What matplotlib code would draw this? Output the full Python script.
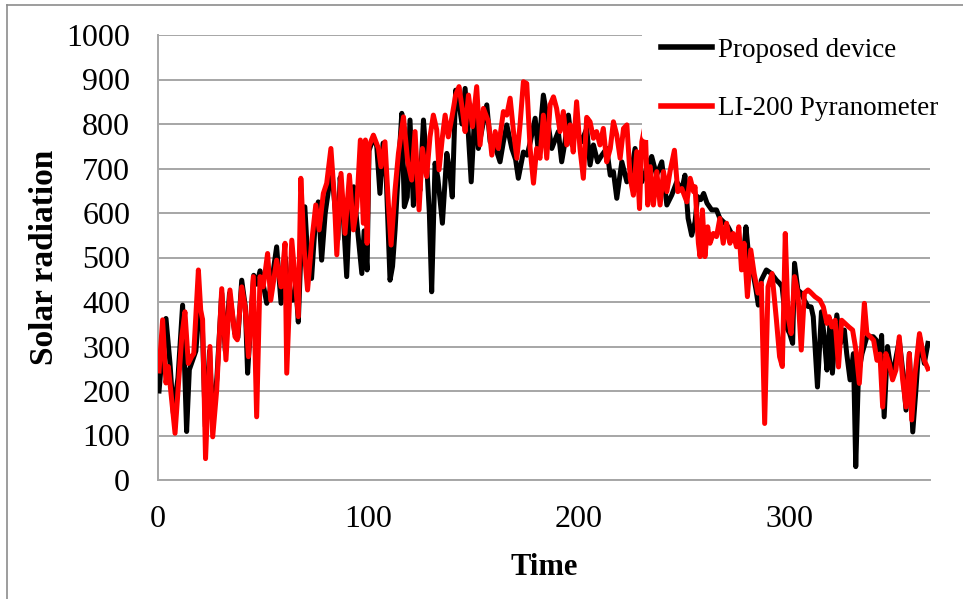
import matplotlib
matplotlib.use("Agg")
import matplotlib.pyplot as plt
from matplotlib.lines import Line2D

# ---------------- data ----------------
proposed_day = [0.5, 1.2, 3.8, 5.7, 7.3, 9.5, 11.7, 13.6, 14.9, 16.5, 18, 19.5, 21, 22.5, 24.5, 26, 28,
                30.3, 32, 34, 36.5, 38, 39.8, 41.5, 42.6, 44, 45.5, 47, 48.5, 50, 51.7, 53, 54.8, 56.4,
                58.5, 60.5, 62, 64, 65.5, 66.7, 68, 69.8, 71.5, 73, 74.5, 76.2, 77.8, 79.5, 81, 82.5,
                84, 85.5, 86.6, 88, 89.7, 91, 93, 94.5, 96.9, 98, 99.4, 100.3, 102.4, 104, 105.5, 107,
                108.5, 110.3, 111.5, 112.7, 114.3, 115.9, 117.1, 118.5, 119.8, 121.4, 123, 124.5,
                126.2, 127.7, 129, 130.1, 131.7, 133, 135.2, 137.3, 138.5, 139.9, 141.5, 143, 144.5,
                146, 147.5, 148.9, 150.8, 152.3, 154.5, 156.3, 157.9, 160, 162.6, 164.2, 165.8, 168.2,
                170, 171.3, 173.7, 175.5, 177, 179.3, 180.8, 183.2, 184.8, 187.2, 190.3, 191.9, 193.5,
                195.1, 196.8, 198.5, 201.4, 203.8, 205.4, 207, 209, 211, 213.3, 215, 216.5, 218.1,
                220.5, 222.9, 225.3, 226.8, 230, 232.3, 234.7, 237, 239.5, 241.9, 244.2, 246.6, 249,
                250.5, 252, 253.7, 255.3, 256.5, 258, 259.4, 261, 263.2, 265.5, 267.1, 269.5, 271,
                273.4, 275.8, 278.6, 279.5, 281, 282.6, 284.3, 285.4, 286.8, 289.2, 291.6, 294, 295.5,
                296.7, 298.7, 300.3, 301.7, 302.6, 304.2, 305.8, 307.3, 309, 310.5, 311.5, 313.5,
                315.4, 316.7, 318, 319.5, 320.6, 322.7, 324.4, 326.3, 327.4, 329, 330.6, 331.7, 333,
                334.7, 337, 340, 341.5, 343, 344, 345.2, 346.8, 348.7, 350, 352.4, 354, 355.6, 357.2,
                358.8, 360.4, 362, 364.3, 366]
proposed_val = [200, 240, 363, 262, 150, 230, 393, 109, 248, 270, 290, 380, 360, 120, 290, 130, 230,
                420, 290, 420, 330, 320, 449, 390, 240, 350, 460, 440, 470, 440, 397, 420, 470, 524,
                397, 500, 420, 404, 440, 355, 520, 614, 470, 453, 560, 625, 494, 600, 650, 700,
                620, 540, 680, 600, 457, 600, 659, 580, 464, 560, 472, 740, 770, 750, 644, 757,
                680, 449, 480, 562, 700, 824, 614, 636, 809, 617, 700, 650,
                809, 712, 600, 423, 712, 680, 577, 734, 700, 636, 876, 850, 800,
                880, 780, 670, 846, 745, 800, 843, 760, 753, 715, 760, 798, 745,
                720, 678, 737, 730, 760, 813, 737, 865, 820, 745, 783, 715, 760,
                820, 753, 790, 760, 790, 708, 753, 715, 730, 745, 685, 693, 633,
                715, 670, 700, 745, 670, 700, 727, 685, 715, 618, 640, 670, 652,
                685, 588, 550, 580, 637, 630, 644, 622, 607, 607, 588, 577, 569,
                547, 539, 517, 569, 494, 472, 427, 393, 449, 472, 464, 449, 442,
                434, 344, 329, 307, 487, 427, 420, 404, 390, 389, 367, 209,
                378, 322, 247, 359, 240, 371, 307, 337, 284, 225, 284, 30, 240,
                284, 322, 322, 314, 269, 325, 142, 300, 240, 254, 314, 247, 157, 284,
                108, 209, 322, 262, 307]

li200_day = [0.5, 2.2, 3.8, 4.9, 8.1, 11.3, 12.8, 14.4, 16, 17, 19.2, 20.3, 21.2, 22.6, 24.7, 26,
             27.9, 30.3, 32.3, 34.2, 36.6, 37.7, 39.8, 41.4, 43, 45.3, 46.9, 48.5, 50, 52.1, 53.6,
             56.4, 58.5, 60.4, 61.2, 63.6, 65.1, 66.7, 67.9, 69.5, 71.1, 73, 75, 76.6, 78.6, 80.2,
             82.2, 83.8, 85, 87, 88.9, 91, 92.9, 94.5, 96.2, 97.6, 98.6, 99.4, 100.3, 102.4, 104.8,
             106, 107.9, 109.5, 110.8, 112.7, 114.3, 116.7, 118.7, 120.6, 122.2, 124.1, 125.7,
             127.7, 129.3, 130.9, 132.5, 133.6, 135.2, 136.5, 138, 139.9, 141.5, 143.1, 144.7, 146,
             147.6, 149.5, 151.5, 153.1, 154.7, 157.1, 158.7, 160.3, 161.8, 164.2, 165.8, 167.4,
             169, 170.6, 172.1, 173.7, 175.3, 176.9, 178.5, 180, 181.6, 183.2, 184.8, 186.4, 188,
             189.5, 191.1, 192.7, 194.3, 195.9, 197.4, 199, 200.6, 202.2, 203.8, 205.4, 207, 208.5,
             210.1, 211.7, 213.3, 215, 216.5, 218.1, 219.7, 221.3, 222.9, 224.5, 226, 227.6, 228.9,
             230, 231.6, 232.8, 234, 235.5, 237.1, 238.7, 240.3, 241.9, 243.4, 245.5, 247.1, 249,
             251.4, 253, 254.6, 255.3, 256.9, 257.7, 258.8, 260, 261.3, 262.4, 264, 265.5, 267.1,
             268.7, 270.3, 271.9, 273.4, 275, 276.1, 277.4, 278.6, 280.2, 281.8, 283.4, 285.2,
             286.8, 288.4, 290, 291.9, 294, 295.5, 296.8, 298.2, 299.5, 301, 302.6, 304.2, 305.8,
             307.3, 309, 310, 312.3, 314.7, 316.3, 318, 319, 320.3, 321.9, 323.5, 325, 326.6,
             328.4, 330.2, 331.8, 333.4, 334.5, 335.8, 337, 338.6, 340.2, 341.8, 343.2, 344.5, 346,
             347.6, 349.2, 350.8, 352.4, 354, 355.6, 357.2, 358.3, 359.9, 362, 364.3, 366]
li200_val = [245, 360, 218, 255, 105, 322, 378, 262, 277, 284, 472, 382, 360, 48, 300, 97,
             202, 430, 270, 427, 322, 315, 434, 389, 277, 457, 142, 457, 434, 509, 404,
             494, 434, 532, 240, 539, 457, 367, 678, 517, 427, 532, 618, 562, 644, 667,
             745, 637, 506, 689, 554, 685, 562, 614, 764, 577, 764, 532, 750, 775, 745,
             704, 760, 622, 528, 652, 734, 816, 715, 674, 783, 607, 745,
             682, 771, 820, 787, 697, 771, 820, 771, 820, 865, 884, 832, 783,
             865, 794, 884, 753, 835, 805, 730, 783, 745, 828, 820, 858,
             783, 723, 798, 895, 891, 745, 667, 745, 723, 820, 723, 843, 861,
             835, 783, 828, 753, 798, 737, 850, 745, 678, 815, 805, 768, 783,
             753, 790, 715, 745, 805, 775, 723, 790, 798, 678, 640, 738, 610,
             760, 798, 618, 704, 618, 693, 618, 693, 648, 693, 741, 648, 655,
             625, 678, 648, 659, 532, 502, 607, 502, 569, 532, 554, 547, 588,
             532, 577, 532, 554, 524, 569, 472, 532, 412, 517, 464, 420,
             442, 127, 434, 464, 359, 277, 255, 554, 367, 329, 457, 420, 292,
             420, 427, 423, 412, 404, 389, 352, 367, 344, 359, 254, 359, 352,
             344, 337, 292, 217, 300, 397, 329, 322, 314, 269, 283, 164, 284,
             262, 225, 247, 322, 225, 164, 284, 135, 240, 329, 269, 250]

series_names = ["Proposed device", "LI-200 Pyranometer"]
y_ticks = [0, 100, 200, 300, 400, 500, 600, 700, 800, 900, 1000]
x_ticks = [0, 100, 200, 300]

# ---------------- figure ----------------
plt.rcParams['font.family'] = ['Liberation Serif', 'DejaVu Serif']
W, H = 963, 599
fig = plt.figure(figsize=(W / 100, H / 100), dpi=100)
ax = fig.add_axes([158 / W, 1 - 480 / H, (930 - 158) / W, (480 - 35) / H])

ax.plot(proposed_day, proposed_val, color='black', lw=3.6, solid_joinstyle='round', zorder=3)
ax.plot(li200_day, li200_val, color='#ff0000', lw=3.6, solid_joinstyle='round', zorder=4)

ax.set_xlim(0, 367)
ax.set_ylim(0, 1000)
ax.set_yticks(y_ticks)
ax.set_xticks(x_ticks)
ax.yaxis.grid(True, color='#a6a6a6', lw=1.4)
ax.set_axisbelow(True)
for s in ['top', 'right']:
    ax.spines[s].set_visible(False)
for s in ['left', 'bottom']:
    ax.spines[s].set_color('#a6a6a6')
    ax.spines[s].set_linewidth(1.4)
ax.tick_params(axis='both', length=0, labelsize=23)
ax.tick_params(axis='y', pad=20)
ax.tick_params(axis='x', pad=18)

ax.set_xlabel("Time", fontsize=22, fontweight='bold', labelpad=14)
ax.set_ylabel("Solar radiation", fontsize=24, fontweight='bold')
ax.yaxis.set_label_coords((60 - 158) / (930 - 158), 0.5)

handles = [Line2D([], [], color='black', lw=4), Line2D([], [], color='#ff0000', lw=4)]
leg = ax.legend(handles, series_names, loc='upper left', bbox_to_anchor=(642 / W, 1 - 19 / H),
                bbox_transform=fig.transFigure, fontsize=19.5, frameon=True, framealpha=1,
                facecolor='white', edgecolor='none', handlelength=1.9, handletextpad=0.2,
                labelspacing=1.22, borderpad=0.7, borderaxespad=0)
leg.get_frame().set_linewidth(0)

# chart-area border (left and top visible in the reference)
fig.add_artist(Line2D([7 / W, 7 / W], [0, 1 - 5 / H], transform=fig.transFigure, color='#8c8c8c', lw=1.2))
fig.add_artist(Line2D([7 / W, 1], [1 - 5 / H, 1 - 5 / H], transform=fig.transFigure, color='#8c8c8c', lw=1.2))

fig.savefig("out.png", dpi=100, facecolor='white')
